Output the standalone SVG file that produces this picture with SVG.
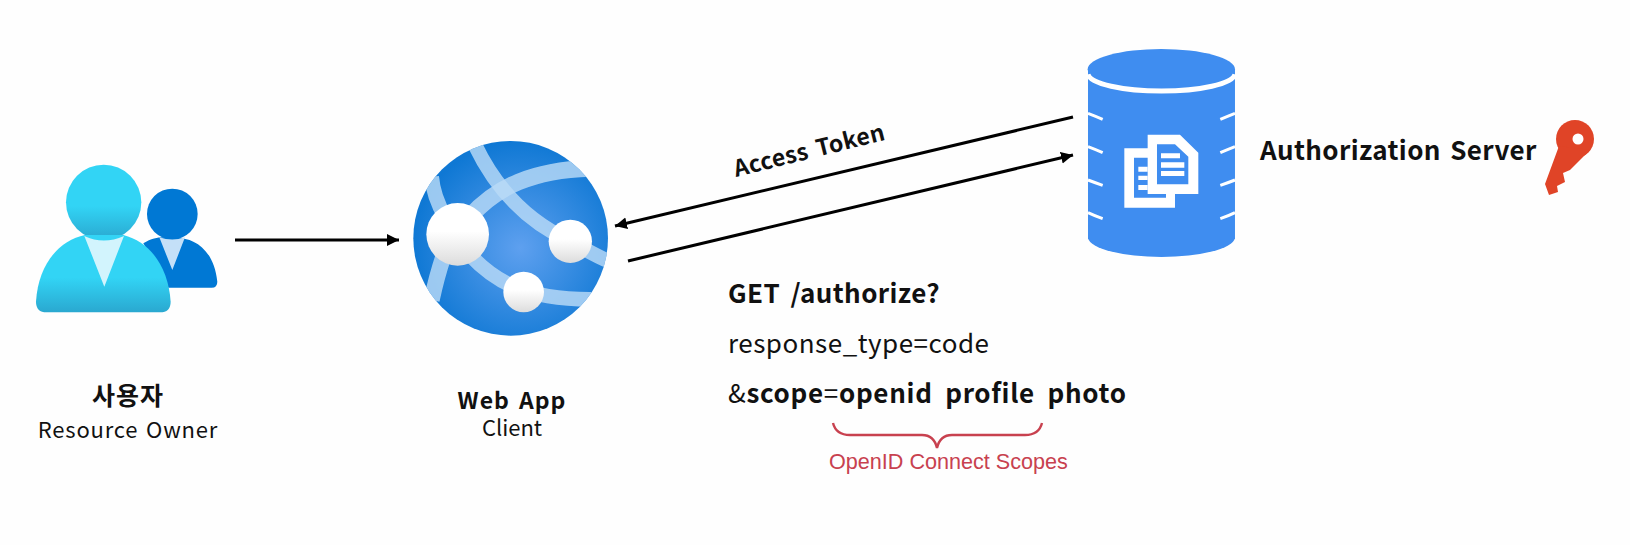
<svg xmlns="http://www.w3.org/2000/svg" width="1630" height="545" viewBox="0 0 1630 545">
<style>
.t{font-family:"Noto Sans CJK KR","Noto Sans",sans-serif;fill:#111}
.b{font-weight:700}
.conn{stroke:#000;stroke-width:3;fill:none}
.band{fill:none;stroke:#b9dbf7;stroke-opacity:.82}
.note{stroke:#fff;stroke-width:9;fill:none}
</style>
<defs>
<marker id="arrow" markerUnits="userSpaceOnUse" markerWidth="14" markerHeight="14" refX="12" refY="6" orient="auto"><path d="M0 0L12 6L0 12Z" fill="#000"/></marker>
<linearGradient id="cy" x1="0" y1="0" x2="0" y2="1"><stop offset=".55" stop-color="#32d4f5"/><stop offset="1" stop-color="#2aa8d0"/></linearGradient>
<radialGradient id="globe" cx=".55" cy=".55" r=".55"><stop offset="0" stop-color="#5ea0ef"/><stop offset="1" stop-color="#0f78d4"/></radialGradient>
<linearGradient id="ball" x1="0" y1="0" x2="0" y2="1"><stop offset=".45" stop-color="#fff"/><stop offset="1" stop-color="#dcdcdc"/></linearGradient>
<clipPath id="gclip"><circle cx="362" cy="355" r="292"/></clipPath>
</defs>
<rect width="1630" height="545" fill="#fefefe"/>
<g id="connectors">
<line class="conn" x1="235" y1="240" x2="399" y2="240" marker-end="url(#arrow)"/>
<line class="conn" x1="1073" y1="117" x2="615" y2="226" marker-end="url(#arrow)"/>
<line class="conn" x1="628" y1="261" x2="1073" y2="155" marker-end="url(#arrow)"/>
</g>
<g id="resource-owner">
<g transform="translate(0,130) scale(.3333)">
<circle cx="517" cy="252" r="76" fill="#0078d4"/>
<path d="M430 340C470 315 500 322 517 325C560 318 640 340 652 455Q652 473 635 473H505Z" fill="#0078d4"/>
<path d="M478 322Q517 335 555 322L517 420Z" fill="#c4e0f8"/>
<circle cx="311" cy="217" r="113" fill="url(#cy)"/>
<path d="M108 515C115 400 180 330 255 315L370 315C450 335 505 410 512 515Q512 547 480 547H140Q108 547 108 515Z" fill="url(#cy)"/>
<path d="M253 318Q311 345 372 318L313 470Z" fill="#d2f4fd"/>
</g>
<text class="t b" x="128" y="405" text-anchor="middle" font-size="25" letter-spacing="1">사용자</text>
<text class="t" x="128" y="438" text-anchor="middle" font-size="22" letter-spacing=".8" word-spacing="2">Resource Owner</text>
</g>
<g id="web-app">
<g transform="translate(390,120) scale(.3333)">
<circle cx="362" cy="355" r="292" fill="url(#globe)"/>
<g clip-path="url(#gclip)">
<path class="band" stroke-width="44" d="M255 75C310 190 400 300 541 364C590 390 620 410 660 425"/>
<path class="band" stroke-width="50" d="M240 290C320 200 430 150 600 145"/>
<path class="band" stroke-width="44" d="M125 170Q130 230 165 290"/>
<path class="band" stroke-width="48" d="M160 410Q140 470 125 540"/>
<path class="band" stroke-width="44" d="M240 405C310 480 400 540 610 538"/>
</g>
<circle cx="203" cy="343" r="94" fill="url(#ball)"/>
<circle cx="541" cy="364" r="65" fill="url(#ball)"/>
<circle cx="401" cy="516" r="61" fill="url(#ball)"/>
</g>
<text class="t b" x="512" y="409" text-anchor="middle" font-size="23" letter-spacing="1" word-spacing="3">Web App</text>
<text class="t" x="512" y="436" text-anchor="middle" font-size="22">Client</text>
</g>
<g id="authorization-server">
<g transform="translate(1060,30) scale(.3333)">
<path d="M84 118V625A221 60 0 0 0 525 625V118Z" fill="#3f8df0"/>
<ellipse cx="304" cy="118" rx="221" ry="61" fill="#3f8df0"/>
<path d="M84 133A221 54 0 0 0 525 133" fill="none" stroke="#fff" stroke-width="15"/>
<path class="note" d="M84 250Q105 258 128 268M525 250Q505 258 481 268M84 350Q105 358 128 368M525 350Q505 358 481 368M84 450Q105 458 128 466M525 450Q505 458 481 466M84 548Q105 558 128 566M525 548Q505 558 481 566"/>
<path fill="#fff" fill-rule="evenodd" d="M193 355H263V314H360L415 368V492H345V533H193ZM222 383V503H318V492H263V383ZM291 343V463H385V380L345 343Z"/>
<path fill="#fff" d="M303 370H360V385H303ZM303 397H373V413H303ZM303 423H373V438H303ZM235 410H263V425H235ZM235 437H263V450H235ZM235 465H263V480H235Z"/>
</g>
<text class="t b" x="1260" y="160" font-size="26" letter-spacing=".4" word-spacing="3">Authorization Server</text>
</g>
<g id="key">
<circle cx="1575" cy="139" r="19" fill="#e04427"/>
<path d="M1559 146L1545 184L1549 195L1558 192L1557 186L1565 182L1563 173L1570 170L1590 150Z" fill="#e04427"/>
<circle cx="1578" cy="139" r="5.5" fill="#fff"/>
</g>
<g id="access-token-label"><text class="t b" transform="translate(736,177) rotate(-14)" font-size="23" letter-spacing=".4" word-spacing="3">Access Token</text></g>
<g id="request">
<text class="t b" x="728" y="303" font-size="26" letter-spacing=".4" word-spacing="4">GET /authorize?</text>
<text class="t" x="728" y="353" font-size="26" letter-spacing=".5">response_type=code</text>
<text class="t" x="728" y="403" font-size="26" letter-spacing=".7" word-spacing="6">&amp;<tspan class="b">scope</tspan>=<tspan class="b">openid profile photo</tspan></text>
</g>
<g id="scopes-note">
<path d="M833 423Q836 435 850 435H922Q934 435 937 448Q940 435 952 435H1025Q1039 435 1042 423" fill="none" stroke="#c8414f" stroke-width="2.4"/>
<text x="829" y="469" font-family="Liberation Sans, sans-serif" font-size="21.6" fill="#c8414f">OpenID Connect Scopes</text>
</g>
</svg>
